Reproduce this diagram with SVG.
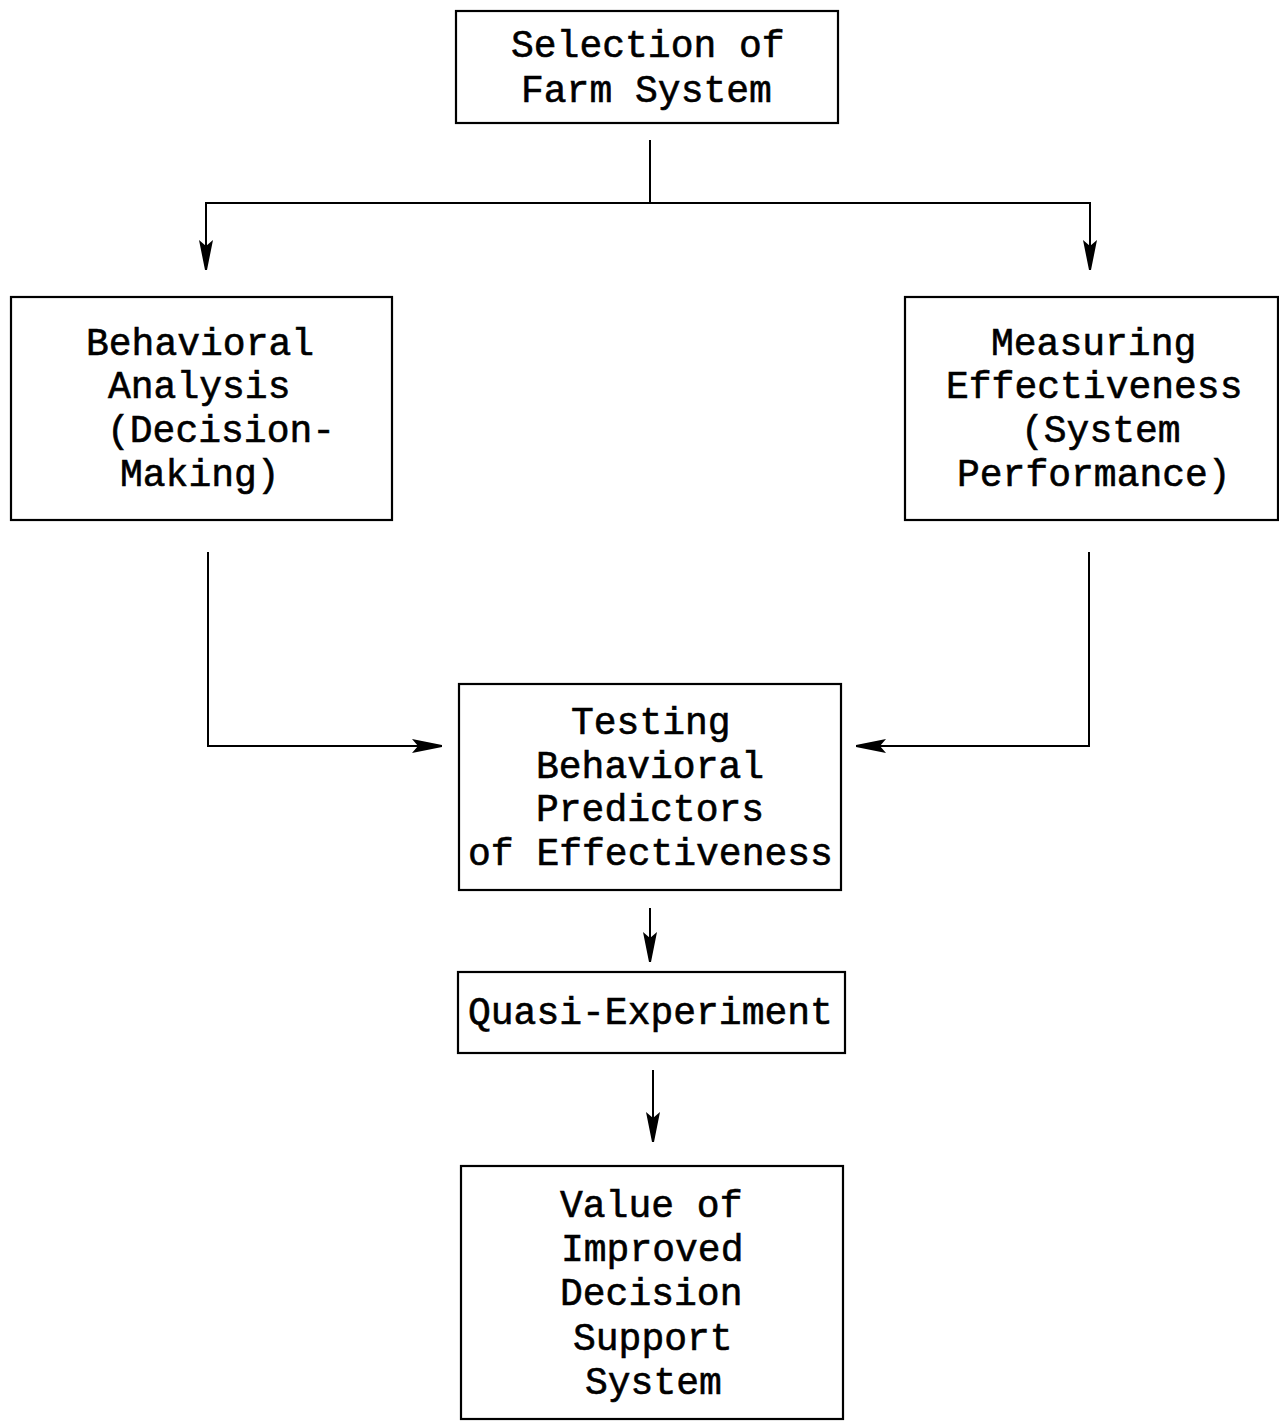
<svg xmlns="http://www.w3.org/2000/svg" width="1279" height="1421" viewBox="0 0 1279 1421">
<style>
.box{fill:none;stroke:#000;stroke-width:2.2}
.t{font-family:"Liberation Mono","Courier New",monospace;font-size:38px;fill:#000;stroke:#000;stroke-width:0.6}
.c{fill:none;stroke:#000;stroke-width:2}
</style>
<defs>
<marker id="ah" viewBox="0 0 30 16" refX="28" refY="8" markerWidth="30" markerHeight="16" markerUnits="userSpaceOnUse" orient="auto">
<path d="M0,1 L6,8 L0,15 L30,9 L30,7 Z" fill="#000"/>
</marker>
</defs>
<rect width="1279" height="1421" fill="#fff"/>
<g id="connectors">
<line class="c" x1="650" y1="140" x2="650" y2="203"/>
<path class="c" d="M650,203 L206,203 L206,268" marker-end="url(#ah)"/>
<path class="c" d="M650,203 L1090,203 L1090,268" marker-end="url(#ah)"/>
<path class="c" d="M208,552 L208,746 L440,746" marker-end="url(#ah)"/>
<path class="c" d="M1089,552 L1089,746 L858,746" marker-end="url(#ah)"/>
<line class="c" x1="650" y1="908" x2="650" y2="960" marker-end="url(#ah)"/>
<line class="c" x1="653" y1="1070" x2="653" y2="1140" marker-end="url(#ah)"/>
</g>
<g id="n1"><rect class="box" x="456" y="11" width="382" height="112"/>
<text class="t" x="511" y="57">Selection of</text><text class="t" x="521" y="102">Farm System</text></g>
<g id="n2"><rect class="box" x="11" y="297" width="381" height="223"/>
<text class="t" x="86" y="355">Behavioral</text><text class="t" x="108" y="398">Analysis</text><text class="t" x="107" y="442">(Decision-</text><text class="t" x="120" y="486">Making)</text></g>
<g id="n3"><rect class="box" x="905" y="297" width="373" height="223"/>
<text class="t" x="991" y="355">Measuring</text><text class="t" x="946" y="398">Effectiveness</text><text class="t" x="1021" y="442">(System</text><text class="t" x="957" y="486">Performance)</text></g>
<g id="n4"><rect class="box" x="459" y="684" width="382" height="206"/>
<text class="t" x="571" y="734">Testing</text><text class="t" x="536" y="778">Behavioral</text><text class="t" x="536" y="821">Predictors</text><text class="t" x="468" y="865">of Effectiveness</text></g>
<g id="n5"><rect class="box" x="458" y="972" width="387" height="81"/>
<text class="t" x="468" y="1024">Quasi-Experiment</text></g>
<g id="n6"><rect class="box" x="461" y="1166" width="382" height="253"/>
<text class="t" x="560" y="1217">Value of</text><text class="t" x="561" y="1261">Improved</text><text class="t" x="560" y="1305">Decision</text><text class="t" x="573" y="1350">Support</text><text class="t" x="585" y="1394">System</text></g>
</svg>
